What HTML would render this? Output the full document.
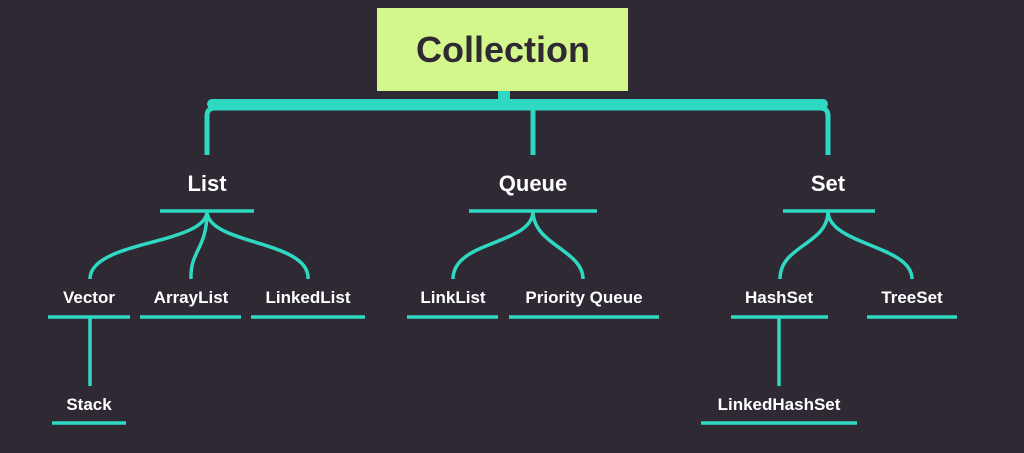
<!DOCTYPE html>
<html><head><style>
html,body{margin:0;padding:0;background:#2e2933;}
svg{display:block}
text{font-family:"Liberation Sans",sans-serif;font-weight:bold;fill:#fff;text-anchor:middle}
</style></head><body>
<svg width="1024" height="453" viewBox="0 0 1024 453">
<rect width="1024" height="453" fill="#2e2933"/>
<rect x="377" y="8" width="251" height="83" fill="#d4f78b"/>
<text x="503" y="62" font-size="36" style="fill:#2e2933">Collection</text>
<g stroke="#2fd8c3" fill="none">
<rect x="498" y="91" width="12" height="12" fill="#2fd8c3" stroke="none"/>
<path d="M207 155 V116 Q207 108 215 108 H820 Q828 108 828 116 V155" stroke-width="5"/>
<path d="M212 104 H823" stroke-width="10" stroke-linecap="round"/>
<path d="M533 108 V155" stroke-width="5"/>
<g stroke-width="3.5">
<path d="M160 211 H254 M469 211 H597 M783 211 H875"/>
<path d="M48 317 H130 M140 317 H241 M251 317 H365 M407 317 H498 M509 317 H659 M731 317 H828 M867 317 H957 M52 423 H126 M701 423 H857"/>
<path d="M207 211 C207 245 90 240 90 279"/>
<path d="M207 211 C207 250 190 250 191 279"/>
<path d="M207 211 C207 245 310 240 308 279"/>
<path d="M533 211 C533 245 453 240 453 279"/>
<path d="M533 211 C533 245 583 250 583 279"/>
<path d="M828 211 C828 245 780 245 780 279"/>
<path d="M828 211 C828 245 912 245 912 279"/>
<path d="M90 317 V386 M779 317 V386"/>
</g></g>
<g font-size="22">
<text x="207" y="191">List</text>
<text x="533" y="191">Queue</text>
<text x="828" y="191">Set</text>
</g>
<g font-size="17">
<text x="89" y="303">Vector</text>
<text x="191" y="303">ArrayList</text>
<text x="308" y="303">LinkedList</text>
<text x="453" y="303">LinkList</text>
<text x="584" y="303">Priority Queue</text>
<text x="779" y="303">HashSet</text>
<text x="912" y="303">TreeSet</text>
<text x="89" y="410">Stack</text>
<text x="779" y="410">LinkedHashSet</text>
</g>
</svg>
</body></html>
